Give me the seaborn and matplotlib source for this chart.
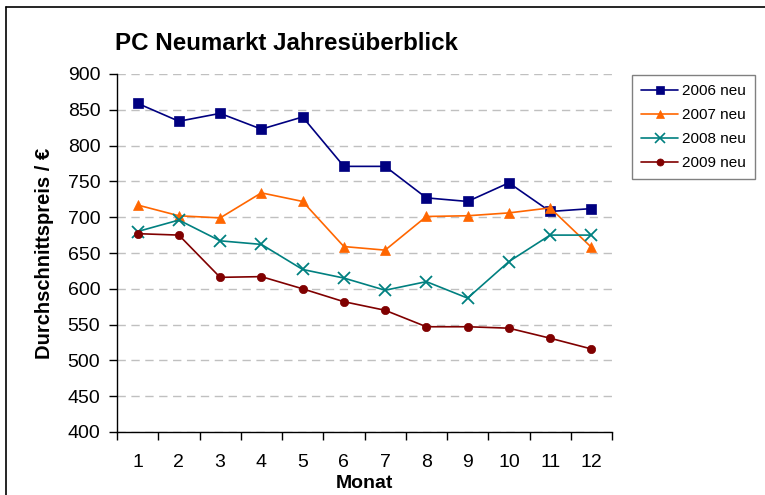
import pandas as pd
import numpy as np
import matplotlib
matplotlib.use("Agg")
import matplotlib.pyplot as plt
from matplotlib.lines import Line2D
import seaborn as sns

months = list(range(1, 13))
series_names = ["2006 neu", "2007 neu", "2008 neu", "2009 neu"]
v2006 = [859, 834, 845, 823, 840, 771, 771, 727, 722, 748, 708, 712]
v2007 = [717, 702, 699, 734, 722, 659, 654, 701, 702, 706, 713, 658]
v2008 = [680, 696, 667, 662, 627, 615, 598, 610, 587, 638, 675, 675]
v2009 = [677, 675, 616, 617, 600, 582, 570, 547, 547, 545, 531, 516]
y_ticks = list(range(400, 901, 50))

colors = ["#000080", "#FF6600", "#008080", "#800000"]
markers = ["s", "^", "x", "o"]
msizes = [6.5, 7.5, 9, 6]

df = pd.DataFrame({
    "Monat": months * 4,
    "Preis": v2006 + v2007 + v2008 + v2009,
    "Serie": np.repeat(series_names, 12),
})

sns.set_theme(style="white")
plt.rcParams["font.family"] = ["Liberation Sans", "DejaVu Sans"]
plt.rcParams["text.color"] = "black"
plt.rcParams["axes.labelcolor"] = "black"
plt.rcParams["xtick.color"] = "black"
plt.rcParams["ytick.color"] = "black"

fig = plt.figure(figsize=(7.65, 4.95), dpi=100)
ax = fig.add_axes([117 / 765, 1 - 432 / 495, (612 - 117) / 765, (432 - 74) / 495])

for name, c, m, ms in zip(series_names, colors, markers, msizes):
    sub = df[df["Serie"] == name]
    sns.lineplot(data=sub, x="Monat", y="Preis", color=c, marker=m,
                 markersize=ms, markeredgecolor=c, markeredgewidth=1.3 if m == "x" else 0.5,
                 linewidth=1.2, ax=ax, legend=False)

ax.set_xlim(0.5, 12.5)
ax.set_ylim(400, 900)
ax.set_yticks(y_ticks)
ax.set_xticks(months)
ax.set_xticks(np.arange(0.5, 12.6, 1), minor=True)
ax.tick_params(axis="x", which="major", length=0, labelsize=14, pad=16)
ax.tick_params(axis="x", which="minor", length=6, width=1, direction="out", bottom=True)
ax.tick_params(axis="y", length=6, width=1, direction="out", left=True, labelsize=14, pad=6)
ax.yaxis.grid(True, color="#c0c0c0", linestyle=(0, (6, 4)), linewidth=1)
ax.xaxis.grid(False)
for s in ["top", "right"]:
    ax.spines[s].set_visible(False)
for s in ["left", "bottom"]:
    ax.spines[s].set_color("black")
    ax.spines[s].set_linewidth(1)

ax.set_xlabel("Monat", fontsize=14, fontweight="bold", labelpad=3)
ax.set_ylabel("Durchschnittspreis / €", fontsize=14.5, fontweight="bold", labelpad=9.5)
fig.text(115 / 765, 1 - 44 / 495, "PC Neumarkt Jahresüberblick", fontsize=17.4,
         fontweight="bold", va="center", ha="left")

handles = [Line2D([0], [0], color=c, marker=m, markersize=ms * 0.85, markeredgecolor=c,
                  markeredgewidth=1.2 if m == "x" else 0.5, linewidth=1.2)
           for c, m, ms in zip(colors, markers, msizes)]
leg = fig.legend(handles, series_names, loc="upper left",
                 bbox_to_anchor=(632 / 765, 1 - 75 / 495), borderaxespad=0, fontsize=11,
                 frameon=True, fancybox=False, edgecolor="#606060",
                 handlelength=2.4, borderpad=0.6, labelspacing=0.65, handletextpad=0.3)
leg.get_frame().set_linewidth(1)

# chart border (top and left edges visible)
fig.add_artist(Line2D([6 / 765, 6 / 765], [0, 1 - 7 / 495], color="black", lw=1.2,
                      transform=fig.transFigure))
fig.add_artist(Line2D([6 / 765, 1], [1 - 7 / 495, 1 - 7 / 495], color="black", lw=1.2,
                      transform=fig.transFigure))

fig.savefig("out.png", dpi=100)
